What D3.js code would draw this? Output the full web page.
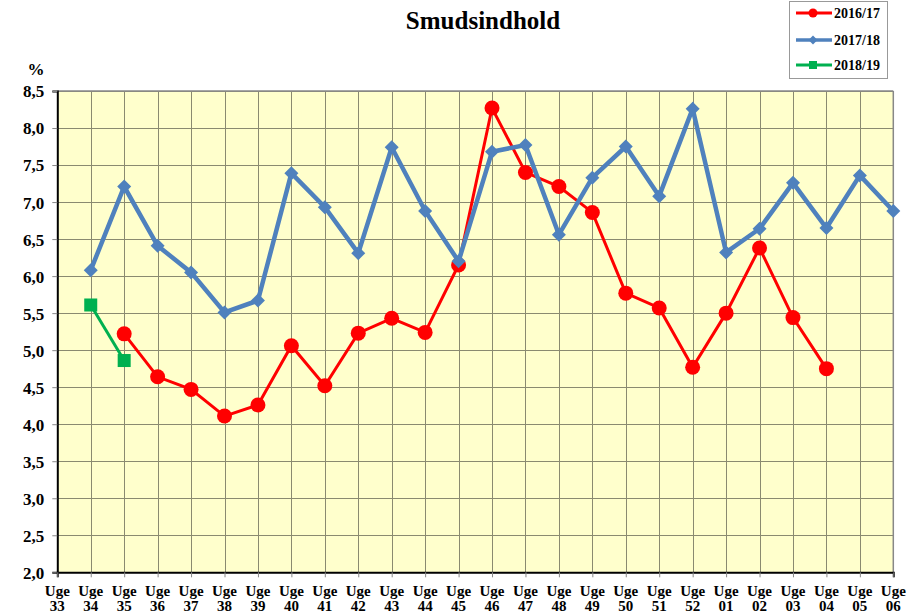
<!DOCTYPE html>
<html><head><meta charset="utf-8">
<script src="https://cdn.jsdelivr.net/npm/d3@7"></script>
<style>body{margin:0;background:#fff}svg{display:block}text{font-family:"Liberation Serif","Times New Roman",serif;font-weight:bold;fill:#000}</style>
</head><body><svg id="c" width="918" height="616"></svg>
<script>
const weeks = ["33","34","35","36","37","38","39","40","41","42","43","44","45","46","47","48","49","50","51","52","01","02","03","04","05","06"];
const s1617 = [null,null,5.22,4.64,4.47,4.11,4.26,5.06,4.52,5.23,5.43,5.24,6.15,8.27,7.40,7.21,6.86,5.77,5.57,4.77,5.50,6.38,5.44,4.75,null,null];
const s1718 = [null,6.08,7.21,6.41,6.05,5.51,5.67,7.39,6.93,6.31,7.74,6.88,6.20,7.68,7.77,6.56,7.33,7.75,7.08,8.26,6.32,6.64,7.26,6.65,7.36,6.88];
const s1819 = [null,5.61,4.86,null,null,null,null,null,null,null,null,null,null,null,null,null,null,null,null,null,null,null,null,null,null,null];
const yTicks = [2.0,2.5,3.0,3.5,4.0,4.5,5.0,5.5,6.0,6.5,7.0,7.5,8.0,8.5];
const seriesNames = ["2016/17","2017/18","2018/19"];

const svg = d3.select("#c");
const L=57.3,R=893.3,T=91,B=572.3;
const x = d3.scalePoint().domain(weeks).range([L,R]);
const y = d3.scaleLinear().domain([2,8.5]).range([B,T]);
const fmt = v => d3.format(".1f")(v).replace(".",",");

svg.append("rect").attr("x",L).attr("y",T).attr("width",R-L).attr("height",B-T).attr("fill","#FFFFCC");
// grid
svg.append("g").selectAll("line").data(yTicks.slice(1)).join("line")
  .attr("x1",L).attr("x2",R).attr("y1",d=>Math.round(y(d))+0.5).attr("y2",d=>Math.round(y(d))+0.5)
  .attr("stroke","#8a8a70").attr("stroke-width",1);
svg.append("g").selectAll("line").data(weeks.slice(1)).join("line")
  .attr("y1",T).attr("y2",B).attr("x1",d=>Math.round(x(d))+0.5).attr("x2",d=>Math.round(x(d))+0.5)
  .attr("stroke","#8a8a70").attr("stroke-width",1);
// frame top/right gray
svg.append("line").attr("x1",L).attr("x2",R).attr("y1",T).attr("y2",T).attr("stroke","#888").attr("stroke-width",1.5);
svg.append("line").attr("x1",R).attr("x2",R).attr("y1",T).attr("y2",B).attr("stroke","#888").attr("stroke-width",1.5);

// axes
const yAxis = d3.axisLeft(y).tickValues(yTicks).tickSize(5).tickFormat(fmt);
const gy = svg.append("g").attr("transform",`translate(${L},0)`).call(yAxis);
gy.select(".domain").attr("stroke","#000").attr("stroke-width",2);
gy.selectAll(".tick line").attr("stroke","#888");
gy.selectAll(".tick text").attr("font-size",17).attr("x",-13).attr("dy","0.35em").style("font-family","Liberation Serif").style("font-weight","bold");

const xAxis = d3.axisBottom(x).tickSize(5).tickFormat("");
const gx = svg.append("g").attr("transform",`translate(0,${B})`).call(xAxis);
gx.select(".domain").attr("stroke","#000").attr("stroke-width",2);
gx.selectAll(".tick line").attr("stroke","#888");
const lbl = svg.append("g").selectAll("g").data(weeks).join("g").attr("transform",d=>`translate(${x(d)},0)`);
lbl.append("text").attr("y",596).attr("text-anchor","middle").attr("font-size",15).text("Uge");
lbl.append("text").attr("y",611).attr("text-anchor","middle").attr("font-size",15).text(d=>d);

svg.append("text").attr("x",36).attr("y",75).attr("text-anchor","middle").attr("font-size",17).text("%");
svg.append("text").attr("x",483).attr("y",29).attr("text-anchor","middle").attr("font-size",25).text("Smudsindhold");

const line = d3.line().defined(d=>d.v!=null).x(d=>x(d.w)).y(d=>y(d.v));
const mk = arr => arr.map((v,i)=>({w:weeks[i],v}));
const colors = ["#FF0000","#4F81BD","#00B050"];
const widths = [3,4.5,3];
[s1617,s1718,s1819].forEach((s,i)=>{
  svg.append("path").datum(mk(s)).attr("d",line).attr("fill","none").attr("stroke",colors[i]).attr("stroke-width",widths[i]).attr("stroke-linejoin","miter");
});
const pts = arr => mk(arr).filter(d=>d.v!=null);
svg.append("g").selectAll("circle").data(pts(s1617)).join("circle")
  .attr("cx",d=>x(d.w)).attr("cy",d=>y(d.v)).attr("r",7.5).attr("fill",colors[0]);
svg.append("g").selectAll("path").data(pts(s1718)).join("path")
  .attr("transform",d=>`translate(${x(d.w)},${y(d.v)})`).attr("d","M0,-7L7,0L0,7L-7,0Z").attr("fill",colors[1]);
svg.append("g").selectAll("rect").data(pts(s1819)).join("rect")
  .attr("x",d=>x(d.w)-6.5).attr("y",d=>y(d.v)-6.5).attr("width",13).attr("height",13).attr("fill",colors[2]);

// legend
const lg = svg.append("g");
lg.append("rect").attr("x",789.5).attr("y",1.5).attr("width",98).attr("height",77).attr("fill","#fff").attr("stroke","#999");
const rows = [13,40,65];
seriesNames.forEach((n,i)=>{
  const yy=rows[i];
  lg.append("line").attr("x1",796).attr("x2",832).attr("y1",yy).attr("y2",yy).attr("stroke",colors[i]).attr("stroke-width",i==1?3.5:3);
  if(i==0) lg.append("circle").attr("cx",813).attr("cy",yy).attr("r",4.5).attr("fill",colors[0]);
  if(i==1) lg.append("path").attr("transform",`translate(813,${yy})`).attr("d","M0,-4.5L4.5,0L0,4.5L-4.5,0Z").attr("fill",colors[1]);
  if(i==2) lg.append("rect").attr("x",809).attr("y",yy-4).attr("width",8).attr("height",8).attr("fill",colors[2]);
  lg.append("text").attr("x",834).attr("y",yy+5).attr("font-size",14).text(n);
});
</script></body></html>
